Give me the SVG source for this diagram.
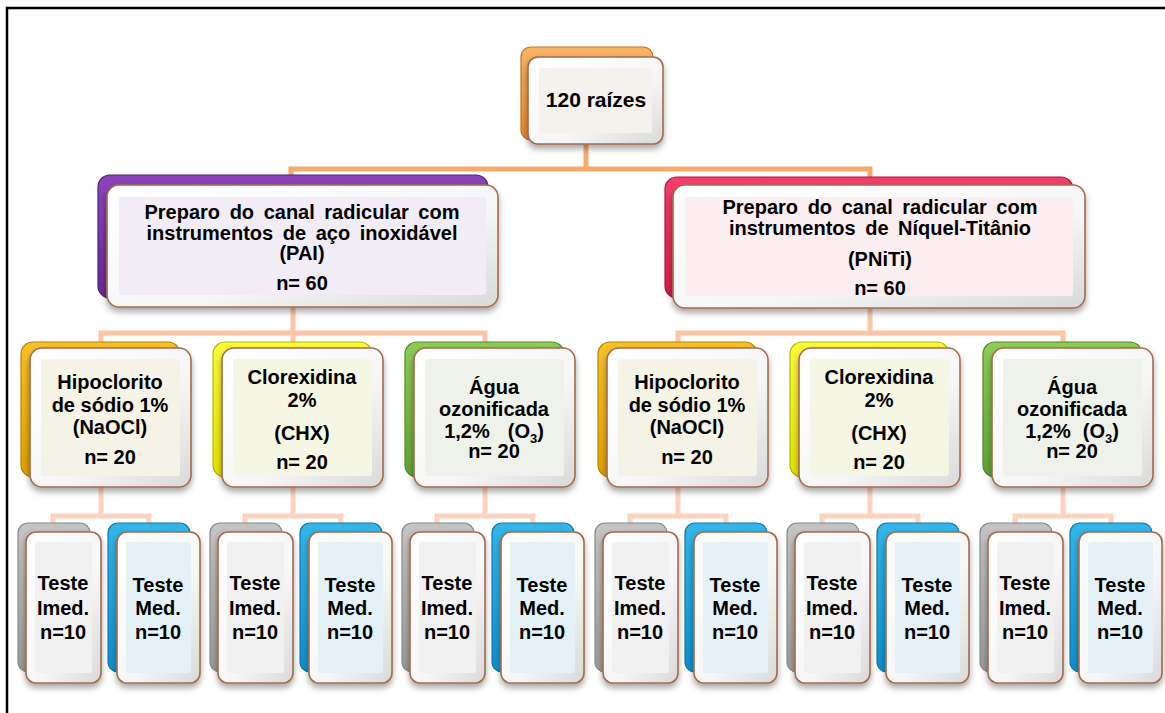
<svg xmlns="http://www.w3.org/2000/svg" width="1165" height="713" viewBox="0 0 1165 713">
<defs>
<filter id="sh" x="-20%" y="-20%" width="140%" height="150%"><feDropShadow dx="0" dy="4" stdDeviation="3" flood-color="#000" flood-opacity="0.35"/></filter>
<linearGradient id="bev" x1="0" y1="0" x2="1" y2="1"><stop offset="0" stop-color="#FFFFFF"/><stop offset="0.6" stop-color="#F6F6F6"/><stop offset="1" stop-color="#D9D9D9"/></linearGradient>
<linearGradient id="gOrange" x1="0" y1="0" x2="0" y2="1"><stop offset="0" stop-color="#F8B466"/><stop offset="1" stop-color="#E4872C"/></linearGradient>
<linearGradient id="gPurple" x1="0" y1="0" x2="0" y2="1"><stop offset="0" stop-color="#8B45B9"/><stop offset="1" stop-color="#68278E"/></linearGradient>
<linearGradient id="gRed" x1="0" y1="0" x2="0" y2="1"><stop offset="0" stop-color="#F2406C"/><stop offset="1" stop-color="#D21A4B"/></linearGradient>
<linearGradient id="gGold" x1="0" y1="0" x2="0" y2="1"><stop offset="0" stop-color="#F6C228"/><stop offset="1" stop-color="#DFA000"/></linearGradient>
<linearGradient id="gYellow" x1="0" y1="0" x2="0" y2="1"><stop offset="0" stop-color="#FAFA3A"/><stop offset="1" stop-color="#E2E200"/></linearGradient>
<linearGradient id="gGreen" x1="0" y1="0" x2="0" y2="1"><stop offset="0" stop-color="#8FCB55"/><stop offset="1" stop-color="#60A332"/></linearGradient>
<linearGradient id="gGray" x1="0" y1="0" x2="0" y2="1"><stop offset="0" stop-color="#C4C4C4"/><stop offset="1" stop-color="#9A9A9A"/></linearGradient>
<linearGradient id="gBlue" x1="0" y1="0" x2="0" y2="1"><stop offset="0" stop-color="#34B6EA"/><stop offset="1" stop-color="#0E8FCA"/></linearGradient>
</defs>
<style>
.fr{fill:url(#bev);stroke:#A86A4C;stroke-width:1.6;filter:url(#sh)}
.bk{stroke-width:1.2}
.t{font-family:"Liberation Sans",Arial,sans-serif;font-weight:bold;font-size:20px;fill:#000;text-anchor:middle}
.ws{word-spacing:4px}
.c1{stroke:#F8AA6C;stroke-width:5;fill:none}
.c2{stroke:#FCC6A6;stroke-width:5;fill:none}
.c3{stroke:#FDD3BD;stroke-width:5;fill:none}
.iTop{fill:#F5F1EC}.iPai{fill:#F1ECF5}.iPni{fill:#FBEEF1}
.iHip{fill:#F5F3E5}.iClo{fill:#F6F6E5}.iAgu{fill:#EFF2EA}
.iImd{fill:#F1F1F1}.iMed{fill:#E4F1F7}
</style>
<rect width="1165" height="713" fill="#FFFFFF"/>
<path d="M7,713 V8 H1165" fill="none" stroke="#000" stroke-width="2.5"/>

<g id="connectors">
<path class="c1" d="M586,143 V169 M291,186 V169 H870 V186"/>
<path class="c2" d="M293,307 V333 M101,348 V333 H485 V348 M293,333 V348"/>
<path class="c2" d="M870,308 V333 M678,348 V333 H1063 V348"/>
<path class="c3" d="M101,487 V516 M53,532 V516 H149 V532"/>
<path class="c3" d="M293,487 V516 M245,532 V516 H341 V532"/>
<path class="c3" d="M485,487 V516 M437,532 V516 H533 V532"/>
<path class="c3" d="M678,487 V516 M630,532 V516 H726 V532"/>
<path class="c3" d="M870,487 V516 M822,532 V516 H918 V532"/>
<path class="c3" d="M1063,487 V516 M1015,532 V516 H1111 V532"/>
</g>

<g id="n-root">
<rect class="bk" x="521" y="47" width="132" height="93" rx="10" fill="url(#gOrange)" stroke="#C8741E"/>
<rect class="fr" x="528" y="57" width="135" height="87" rx="10"/>
<rect class="iTop" x="539" y="68" width="113" height="65" rx="3"/>
<text class="t" x="596" y="107" font-size="21" style="font-size:21px">120 raízes</text>
</g>

<g id="n-pai">
<rect class="bk" x="98" y="175" width="390" height="123" rx="12" fill="url(#gPurple)" stroke="#54207A"/>
<rect class="fr" x="107" y="185" width="391" height="122" rx="12"/>
<rect class="iPai" x="119" y="197" width="367" height="98" rx="3"/>
<text class="t ws" x="302" y="219">Preparo do canal radicular com</text>
<text class="t ws" x="302" y="240">instrumentos de aço inoxidável</text>
<text class="t" x="302" y="260">(PAI)</text>
<text class="t" x="302" y="290">n= 60</text>
</g>

<g id="n-pniti">
<rect class="bk" x="665" y="177" width="408" height="121" rx="12" fill="url(#gRed)" stroke="#B01440"/>
<rect class="fr" x="673" y="185" width="412" height="123" rx="12"/>
<rect class="iPni" x="685" y="197" width="388" height="99" rx="3"/>
<text class="t ws" x="880" y="214">Preparo do canal radicular com</text>
<text class="t ws" x="880" y="235">instrumentos de Níquel-Titânio</text>
<text class="t" x="880" y="266">(PNiTi)</text>
<text class="t" x="880" y="295">n= 60</text>
</g>

<g id="n-hip-pai">
<rect class="bk" x="21" y="342" width="159" height="135" rx="12" fill="url(#gGold)" stroke="#B88400"/>
<rect class="fr" x="30" y="348" width="161" height="139" rx="12"/>
<rect class="iHip" x="41" y="359" width="139" height="117" rx="3"/>
<text class="t" x="110" y="389">Hipoclorito</text>
<text class="t" x="110" y="412">de sódio 1%</text>
<text class="t" x="110" y="434">(NaOCl)</text>
<text class="t" x="110" y="464">n= 20</text>
</g>

<g id="n-clo-pai">
<rect class="bk" x="213" y="342" width="159" height="135" rx="12" fill="url(#gYellow)" stroke="#B8B800"/>
<rect class="fr" x="222" y="348" width="161" height="139" rx="12"/>
<rect class="iClo" x="233" y="359" width="139" height="117" rx="3"/>
<text class="t" x="302" y="384">Clorexidina</text>
<text class="t" x="302" y="407">2%</text>
<text class="t" x="302" y="440">(CHX)</text>
<text class="t" x="302" y="469">n= 20</text>
</g>

<g id="n-agu-pai">
<rect class="bk" x="405" y="342" width="159" height="135" rx="12" fill="url(#gGreen)" stroke="#4E8A28"/>
<rect class="fr" x="414" y="348" width="161" height="139" rx="12"/>
<rect class="iAgu" x="425" y="359" width="139" height="117" rx="3"/>
<text class="t" x="494" y="394">Água</text>
<text class="t" x="494" y="416">ozonificada</text>
<text class="t" x="494" y="438">1,2%<tspan dx="18">(O</tspan><tspan dy="5" style="font-size:13px">3</tspan><tspan dy="-5">)</tspan></text>
<text class="t" x="494" y="458">n= 20</text>
</g>

<g id="n-hip-pni">
<rect class="bk" x="598" y="342" width="159" height="135" rx="12" fill="url(#gGold)" stroke="#B88400"/>
<rect class="fr" x="607" y="348" width="161" height="139" rx="12"/>
<rect class="iHip" x="618" y="359" width="139" height="117" rx="3"/>
<text class="t" x="687" y="389">Hipoclorito</text>
<text class="t" x="687" y="412">de sódio 1%</text>
<text class="t" x="687" y="434">(NaOCl)</text>
<text class="t" x="687" y="464">n= 20</text>
</g>

<g id="n-clo-pni">
<rect class="bk" x="790" y="342" width="159" height="135" rx="12" fill="url(#gYellow)" stroke="#B8B800"/>
<rect class="fr" x="799" y="348" width="161" height="139" rx="12"/>
<rect class="iClo" x="810" y="359" width="139" height="117" rx="3"/>
<text class="t" x="879" y="384">Clorexidina</text>
<text class="t" x="879" y="407">2%</text>
<text class="t" x="879" y="440">(CHX)</text>
<text class="t" x="879" y="469">n= 20</text>
</g>

<g id="n-agu-pni">
<rect class="bk" x="983" y="342" width="159" height="135" rx="12" fill="url(#gGreen)" stroke="#4E8A28"/>
<rect class="fr" x="992" y="348" width="161" height="139" rx="12"/>
<rect class="iAgu" x="1003" y="359" width="139" height="117" rx="3"/>
<text class="t" x="1072" y="394">Água</text>
<text class="t" x="1072" y="416">ozonificada</text>
<text class="t" x="1072" y="438">1,2%<tspan dx="12">(O</tspan><tspan dy="5" style="font-size:13px">3</tspan><tspan dy="-5">)</tspan></text>
<text class="t" x="1072" y="458">n= 20</text>
</g>

<!-- level 4 -->
<g id="n-imd-1">
<rect class="bk" x="18" y="523" width="72" height="149" rx="10" fill="url(#gGray)" stroke="#888"/>
<rect class="fr" x="26" y="532" width="75" height="151" rx="10"/>
<rect class="iImd" x="35" y="542" width="57" height="131" rx="3"/>
<text class="t" x="63" y="590">Teste</text><text class="t" x="63" y="615">Imed.</text><text class="t" x="63" y="639">n=10</text>
</g>
<g id="n-med-1">
<rect class="bk" x="108" y="523" width="82" height="149" rx="10" fill="url(#gBlue)" stroke="#0A78AA"/>
<rect class="fr" x="117" y="532" width="83" height="151" rx="10"/>
<rect class="iMed" x="126" y="542" width="65" height="131" rx="3"/>
<text class="t" x="158" y="592">Teste</text><text class="t" x="158" y="615">Med.</text><text class="t" x="158" y="639">n=10</text>
</g>

<g id="n-imd-2">
<rect class="bk" x="210" y="523" width="72" height="149" rx="10" fill="url(#gGray)" stroke="#888"/>
<rect class="fr" x="218" y="532" width="75" height="151" rx="10"/>
<rect class="iImd" x="227" y="542" width="57" height="131" rx="3"/>
<text class="t" x="255" y="590">Teste</text><text class="t" x="255" y="615">Imed.</text><text class="t" x="255" y="639">n=10</text>
</g>
<g id="n-med-2">
<rect class="bk" x="300" y="523" width="82" height="149" rx="10" fill="url(#gBlue)" stroke="#0A78AA"/>
<rect class="fr" x="309" y="532" width="83" height="151" rx="10"/>
<rect class="iMed" x="318" y="542" width="65" height="131" rx="3"/>
<text class="t" x="350" y="592">Teste</text><text class="t" x="350" y="615">Med.</text><text class="t" x="350" y="639">n=10</text>
</g>

<g id="n-imd-3">
<rect class="bk" x="402" y="523" width="72" height="149" rx="10" fill="url(#gGray)" stroke="#888"/>
<rect class="fr" x="410" y="532" width="75" height="151" rx="10"/>
<rect class="iImd" x="419" y="542" width="57" height="131" rx="3"/>
<text class="t" x="447" y="590">Teste</text><text class="t" x="447" y="615">Imed.</text><text class="t" x="447" y="639">n=10</text>
</g>
<g id="n-med-3">
<rect class="bk" x="492" y="523" width="82" height="149" rx="10" fill="url(#gBlue)" stroke="#0A78AA"/>
<rect class="fr" x="501" y="532" width="83" height="151" rx="10"/>
<rect class="iMed" x="510" y="542" width="65" height="131" rx="3"/>
<text class="t" x="542" y="592">Teste</text><text class="t" x="542" y="615">Med.</text><text class="t" x="542" y="639">n=10</text>
</g>

<g id="n-imd-4">
<rect class="bk" x="595" y="523" width="72" height="149" rx="10" fill="url(#gGray)" stroke="#888"/>
<rect class="fr" x="603" y="532" width="75" height="151" rx="10"/>
<rect class="iImd" x="612" y="542" width="57" height="131" rx="3"/>
<text class="t" x="640" y="590">Teste</text><text class="t" x="640" y="615">Imed.</text><text class="t" x="640" y="639">n=10</text>
</g>
<g id="n-med-4">
<rect class="bk" x="685" y="523" width="82" height="149" rx="10" fill="url(#gBlue)" stroke="#0A78AA"/>
<rect class="fr" x="694" y="532" width="83" height="151" rx="10"/>
<rect class="iMed" x="703" y="542" width="65" height="131" rx="3"/>
<text class="t" x="735" y="592">Teste</text><text class="t" x="735" y="615">Med.</text><text class="t" x="735" y="639">n=10</text>
</g>

<g id="n-imd-5">
<rect class="bk" x="787" y="523" width="72" height="149" rx="10" fill="url(#gGray)" stroke="#888"/>
<rect class="fr" x="795" y="532" width="75" height="151" rx="10"/>
<rect class="iImd" x="804" y="542" width="57" height="131" rx="3"/>
<text class="t" x="832" y="590">Teste</text><text class="t" x="832" y="615">Imed.</text><text class="t" x="832" y="639">n=10</text>
</g>
<g id="n-med-5">
<rect class="bk" x="877" y="523" width="82" height="149" rx="10" fill="url(#gBlue)" stroke="#0A78AA"/>
<rect class="fr" x="886" y="532" width="83" height="151" rx="10"/>
<rect class="iMed" x="895" y="542" width="65" height="131" rx="3"/>
<text class="t" x="927" y="592">Teste</text><text class="t" x="927" y="615">Med.</text><text class="t" x="927" y="639">n=10</text>
</g>

<g id="n-imd-6">
<rect class="bk" x="980" y="523" width="72" height="149" rx="10" fill="url(#gGray)" stroke="#888"/>
<rect class="fr" x="988" y="532" width="75" height="151" rx="10"/>
<rect class="iImd" x="997" y="542" width="57" height="131" rx="3"/>
<text class="t" x="1025" y="590">Teste</text><text class="t" x="1025" y="615">Imed.</text><text class="t" x="1025" y="639">n=10</text>
</g>
<g id="n-med-6">
<rect class="bk" x="1070" y="523" width="82" height="149" rx="10" fill="url(#gBlue)" stroke="#0A78AA"/>
<rect class="fr" x="1079" y="532" width="83" height="151" rx="10"/>
<rect class="iMed" x="1088" y="542" width="65" height="131" rx="3"/>
<text class="t" x="1120" y="592">Teste</text><text class="t" x="1120" y="615">Med.</text><text class="t" x="1120" y="639">n=10</text>
</g>
</svg>
